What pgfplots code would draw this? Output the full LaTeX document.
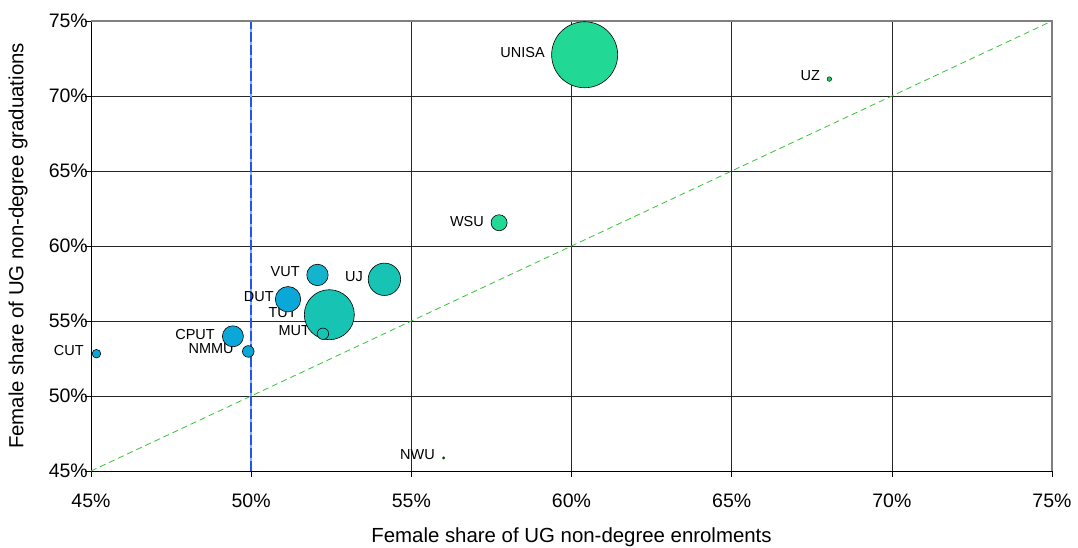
\documentclass[border=0pt]{standalone}
\usepackage{fontspec}
\setmainfont{Liberation Sans}
\usepackage{pgfplots}
\pgfplotsset{compat=1.18}
\definecolor{cGreen}{HTML}{22D895}
\definecolor{cUZ}{HTML}{22C55E}
\definecolor{cTeal}{HTML}{17C3B2}
\definecolor{cVUT}{HTML}{14B4CF}
\definecolor{cBlue}{HTML}{0AA8D8}
\definecolor{cDiag}{HTML}{33C433}
\definecolor{cVert}{HTML}{2255EE}
\definecolor{cVertL}{HTML}{88AAFF}
\begin{document}
\begin{tikzpicture}
\begin{axis}[
  scale only axis, width=961pt, height=450pt,
  xmin=45, xmax=75, ymin=45, ymax=75,
  xtick={45,50,...,75}, ytick={45,50,...,75},
  xtick pos=left, ytick pos=left,
  tick align=outside, major tick length=6pt,
  tick style={black, line width=0.6pt},
  /pgf/number format/assume math mode=true,
  xticklabel={\pgfmathprintnumber{\tick}\%},
  yticklabel={\pgfmathprintnumber{\tick}\%},
  ticklabel style={font=\fontsize{19.5}{22}\selectfont, inner sep=0pt},
  xticklabel style={anchor=base, yshift=-30.5pt},
  yticklabel style={anchor=east, xshift=3pt},
  grid=major, major grid style={black!85, line width=0.6pt},
  axis line style={black, line width=0.8pt},
  xlabel={Female share of UG non-degree enrolments},
  ylabel={Female share of UG non-degree graduations},
  every axis x label/.style={at={([yshift=-66pt]rel axis cs:0.5,0)}, anchor=center, font=\fontsize{20.4}{22}\selectfont},
  every axis y label/.style={at={([xshift=-73pt]rel axis cs:0,0.5)}, anchor=center, rotate=90, font=\fontsize{20.4}{22}\selectfont},
  clip=false,
]
\coordinate (bl) at (rel axis cs:0,0);
\coordinate (tr) at (rel axis cs:1,1);
\addplot[cDiag, line width=0.8pt, dash pattern=on 6pt off 4pt] coordinates {(45,45) (75,75)};
\addplot[cVertL, line width=1.4pt] coordinates {(50,45) (50,75)};
\addplot[cVert, line width=1.4pt, dash pattern=on 10pt off 3pt] coordinates {(50,45) (50,75)};
\draw[black!50, line width=1.6pt] (rel axis cs:0,1) -- (rel axis cs:1,1) -- (rel axis cs:1,0);
% bubbles
\addplot[only marks, mark=*, mark size=33pt, mark options={fill=cGreen, draw=black, line width=0.6pt}] coordinates {(60.41,72.75)};
\addplot[only marks, mark=*, mark size=2.3pt, mark options={fill=cUZ, draw=black, line width=0.4pt}] coordinates {(68.05,71.13)};
\addplot[only marks, mark=*, mark size=8pt, mark options={fill=cGreen, draw=black, line width=0.6pt}] coordinates {(57.74,61.55)};
\addplot[only marks, mark=*, mark size=10.7pt, mark options={fill=cVUT, draw=black, line width=0.6pt}] coordinates {(52.07,58.07)};
\addplot[only marks, mark=*, mark size=16.2pt, mark options={fill=cTeal, draw=black, line width=0.6pt}] coordinates {(54.16,57.78)};
\addplot[only marks, mark=*, mark size=12.7pt, mark options={fill=cBlue, draw=black, line width=0.6pt}] coordinates {(51.15,56.45)};
\addplot[only marks, mark=*, mark size=25pt, mark options={fill=cTeal, draw=black, line width=0.6pt}] coordinates {(52.44,55.42)};
\addplot[only marks, mark=*, mark size=5.7pt, mark options={fill=cTeal, draw=black, line width=0.6pt}] coordinates {(52.24,54.15)};
\addplot[only marks, mark=*, mark size=10.5pt, mark options={fill=cBlue, draw=black, line width=0.6pt}] coordinates {(49.43,53.98)};
\addplot[only marks, mark=*, mark size=5.8pt, mark options={fill=cBlue, draw=black, line width=0.6pt}] coordinates {(49.91,52.97)};
\addplot[only marks, mark=*, mark size=4.3pt, mark options={fill=cBlue, draw=black, line width=0.6pt}] coordinates {(45.17,52.82)};
\addplot[only marks, mark=*, mark size=1.3pt, mark options={fill=black!70!green, draw=black!70!green, line width=0.3pt}] coordinates {(56.01,45.87)};
% labels
\tikzset{lab/.style={anchor=east, inner sep=0pt, font=\fontsize{14.5}{16}\selectfont}}
\node[lab] at (axis cs:59.17,72.93) {UNISA};
\node[lab] at (axis cs:67.76,71.33) {UZ};
\node[lab] at (axis cs:57.27,61.60) {WSU};
\node[lab] at (axis cs:51.52,58.27) {VUT};
\node[lab] at (axis cs:53.49,57.93) {UJ};
\node[lab] at (axis cs:50.71,56.60) {DUT};
\node[lab] at (axis cs:51.43,55.53) {TUT};
\node[lab] at (axis cs:51.84,54.33) {MUT};
\node[lab] at (axis cs:48.87,54.13) {CPUT};
\node[lab] at (axis cs:49.46,53.13) {NMMU};
\node[lab] at (axis cs:44.78,53.00) {CUT};
\node[lab] at (axis cs:55.74,46.07) {NWU};
\end{axis}
\pgfresetboundingbox
\path ([shift={(-91pt,-77pt)}]bl) rectangle ([shift={(26pt,21pt)}]tr);
\end{tikzpicture}
\end{document}
